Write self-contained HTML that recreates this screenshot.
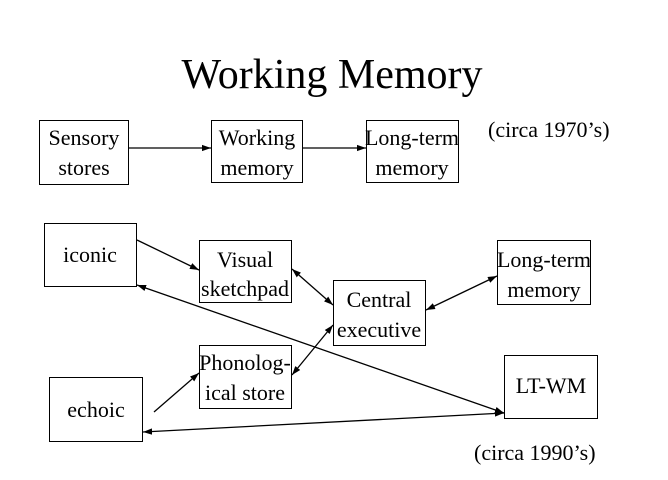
<!DOCTYPE html>
<html><head><meta charset="utf-8"><style>
body{margin:0;background:#fff;}
svg{display:block;}
text{font-family:"Liberation Serif",serif;fill:#000;}
</style></head><body>
<svg width="668" height="480" viewBox="0 0 668 480" xmlns="http://www.w3.org/2000/svg">
<defs>
<marker id="a" viewBox="0 0 10 10" refX="10" refY="5" markerWidth="7" markerHeight="7" orient="auto-start-reverse"><path d="M0,1.5 L10,5 L0,8.5z" fill="#000"/></marker>
</defs>
<text x="332" y="88" font-size="42" text-anchor="middle">Working Memory</text>
<g fill="none" stroke="#000" stroke-width="1">
<rect x="39.5" y="120.5" width="89" height="64"/>
<rect x="211.5" y="120.5" width="91" height="62"/>
<rect x="366.5" y="120.5" width="92" height="62"/>
<rect x="44.5" y="223.5" width="92" height="63"/>
<rect x="199.5" y="240.5" width="92" height="62"/>
<rect x="333.5" y="280.5" width="92" height="65"/>
<rect x="497.5" y="240.5" width="93" height="64"/>
<rect x="199.5" y="345.5" width="92" height="63"/>
<rect x="49.5" y="377.5" width="93" height="64"/>
<rect x="504.5" y="355.5" width="93" height="63"/>
</g>
<g stroke="#000" stroke-width="1.3" fill="none">
<line x1="128" y1="148" x2="211" y2="148" marker-end="url(#a)"/>
<line x1="302" y1="148" x2="366" y2="148" marker-end="url(#a)"/>
<line x1="137" y1="240" x2="199" y2="270" marker-end="url(#a)"/>
<line x1="292" y1="269" x2="333" y2="305" marker-start="url(#a)" marker-end="url(#a)"/>
<line x1="426" y1="310" x2="497" y2="276" marker-start="url(#a)" marker-end="url(#a)"/>
<line x1="292" y1="375" x2="333" y2="325" marker-start="url(#a)" marker-end="url(#a)"/>
<line x1="154" y1="412" x2="199" y2="373" marker-end="url(#a)"/>
<line x1="137" y1="285" x2="504" y2="413" marker-start="url(#a)" marker-end="url(#a)"/>
<line x1="143" y1="432" x2="504" y2="413" marker-start="url(#a)" marker-end="url(#a)"/>
</g>
<g font-size="22" text-anchor="middle">
<text x="84" y="145">Sensory</text><text x="84" y="175">stores</text>
<text x="257" y="145">Working</text><text x="257" y="175">memory</text>
<text x="412" y="145">Long-term</text><text x="412" y="175">memory</text>
<text x="90" y="262">iconic</text>
<text x="245" y="267">Visual</text><text x="245" y="296">sketchpad</text>
<text x="379" y="307">Central</text><text x="379" y="337">executive</text>
<text x="544" y="267">Long-term</text><text x="544" y="297">memory</text>
<text x="245" y="370">Phonolog-</text><text x="245" y="400">ical store</text>
<text x="96" y="417">echoic</text>
<text x="551" y="393">LT-WM</text>
</g>
<text x="488" y="137" font-size="22">(circa 1970’s)</text>
<text x="474" y="460" font-size="22">(circa 1990’s)</text>
</svg>
</body></html>
